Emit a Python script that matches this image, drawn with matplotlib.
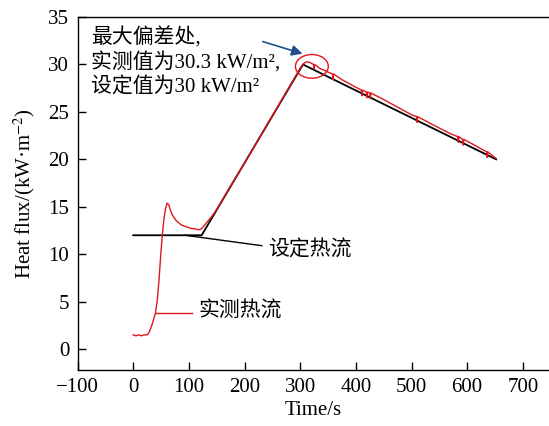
import matplotlib
matplotlib.use("Agg")
import matplotlib.pyplot as plt
from matplotlib.patches import Ellipse

plt.rcParams['font.family'] = ['Liberation Serif', 'Noto Sans CJK SC']
plt.rcParams['mathtext.fontset'] = 'stix'
plt.rcParams['axes.unicode_minus'] = True

# set heat flux (black)
set_t = [0, 123, 305, 652]
set_q = [12.0, 12.0, 30.0, 20.0]

meas_t = [0, 5, 10, 15, 20, 25, 28, 31, 34, 37, 40, 43, 46, 49, 52, 55, 58, 61,
          64, 67, 70, 74, 78, 82, 86, 90, 95, 100, 105, 110, 115, 120, 123,
          130, 140, 150, 175, 200, 225, 250, 275, 300, 306, 312, 318, 324, 325, 326,
          335, 350, 358, 359, 360, 375, 400, 410, 411, 412, 419, 420, 421, 425, 426, 427,
          450, 475, 500, 509, 510, 511, 540, 570, 583, 584, 585, 592, 593, 594,
          610, 625, 635, 636, 637, 645, 652]
meas_q = [1.5, 1.4, 1.5, 1.4, 1.5, 1.5, 1.7, 2.1, 2.6, 3.2, 3.8, 5.0, 7.0, 9.5, 11.8, 13.6, 14.8, 15.4,
          15.2, 14.6, 14.2, 13.8, 13.5, 13.3, 13.1, 13.0, 12.9, 12.8, 12.7, 12.7, 12.6, 12.6, 12.7,
          13.2, 13.9, 14.7, 17.2, 19.6, 22.1, 24.6, 27.1, 29.6, 30.1, 30.3, 30.2, 30.0, 29.5, 30.0,
          29.6, 29.2, 29.0, 28.4, 29.0, 28.4, 27.6, 27.3, 26.7, 27.3, 27.1, 26.5, 27.1, 27.0, 26.4, 27.0,
          26.3, 25.5, 24.7, 24.5, 23.9, 24.5, 23.6, 22.7, 22.4, 21.8, 22.4, 22.1, 21.5, 22.1,
          21.6, 21.1, 20.8, 20.2, 20.8, 20.4, 20.1]

fig = plt.figure(figsize=(5.49, 4.26), dpi=100)
ax = fig.add_axes([0.1412, 0.1315, 0.8588, 0.8285])

ax.plot(set_t, set_q, color='black', lw=1.3, zorder=2)
ax.plot(meas_t, meas_q, color='#e0161b', lw=1.0, zorder=3)

# circle at the maximum deviation
ax.add_patch(Ellipse((321, 29.8), 59, 2.5, fill=False, edgecolor='#e0161b', lw=1.0, zorder=4))
ax.annotate('', xy=(309, 31.05), xytext=(228, 32.5),
            arrowprops=dict(arrowstyle='-|>', color='#1f4e8c', lw=1.2, mutation_scale=16))

ax.text(-75, 33.9, '最大偏差处,\n实测值为30.3 kW/m²,\n设定值为30 kW/m²',
        fontsize=15, va='top', ha='left', linespacing=1.25)

# leader lines for the labels
ax.plot([93, 231], [12.0, 10.9], color='black', lw=1.0)
ax.text(242, 10.4, '设定热流', fontsize=15, va='center', ha='left')
ax.plot([41, 105], [3.85, 3.85], color='#e0161b', lw=1.0)
ax.text(118, 3.9, '实测热流', fontsize=15, va='center', ha='left')

ax.set_xlim(-100, 747)
ax.set_ylim(-2.2, 35)
ax.set_xticks(range(-100, 701, 100))
ax.set_yticks(range(0, 36, 5))
ax.tick_params(direction='in', length=6, width=1, labelsize=15, pad=6)
ax.spines['right'].set_visible(False)
for s in ['left', 'bottom', 'top']:
    ax.spines[s].set_linewidth(1.0)

ax.set_xlabel('Time/s', fontsize=15, labelpad=3)
ax.set_ylabel('Heat flux/(kW·m$^{-2}$)', fontsize=15, labelpad=8)

fig.savefig('out.png', dpi=100)
